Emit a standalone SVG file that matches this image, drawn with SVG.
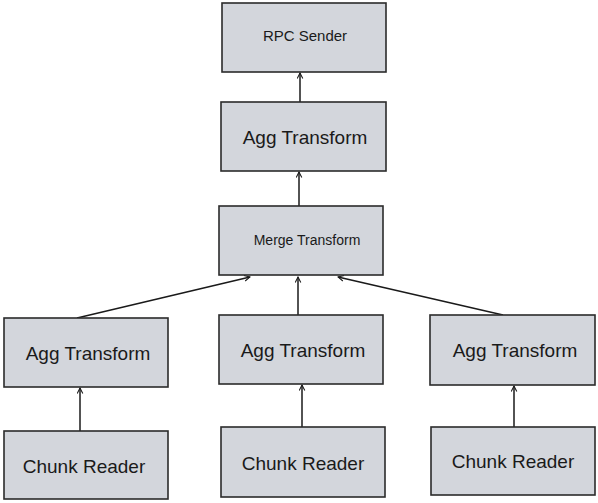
<svg xmlns="http://www.w3.org/2000/svg" width="598" height="503" viewBox="0 0 598 503">
<style>
.box{fill:#d3d6dc;stroke:#2b2b2b;stroke-width:1.6}
.t{font-family:"Liberation Sans",Arial,sans-serif;fill:#1a1a1a;text-anchor:middle;dominant-baseline:central}
.l{font-size:19px}
.s{font-size:15px}
.m{font-size:14px}
.c{stroke:#1a1a1a;stroke-width:1.5;fill:none;marker-end:url(#ah)}
</style>
<defs>
<marker id="ah" viewBox="0 0 10 10" refX="9" refY="5" markerWidth="7" markerHeight="7" orient="auto" markerUnits="userSpaceOnUse">
<path d="M1,1 L9,5 L1,9" fill="none" stroke="#1a1a1a" stroke-width="1.5"/>
</marker>
</defs>
<rect width="598" height="503" fill="#ffffff"/>
<g id="connectors">
<line class="c" x1="300" y1="102" x2="300" y2="73"/>
<line class="c" x1="299" y1="206" x2="299" y2="172"/>
<line class="c" x1="77" y1="318" x2="250" y2="277"/>
<line class="c" x1="298" y1="315" x2="298" y2="277"/>
<line class="c" x1="503" y1="315" x2="338" y2="277"/>
<line class="c" x1="80" y1="431" x2="80" y2="388"/>
<line class="c" x1="302" y1="427" x2="302" y2="385"/>
<line class="c" x1="514" y1="427" x2="514" y2="386"/>
</g>
<g id="rpc-sender">
<rect class="box" x="222" y="3" width="164" height="69"/>
<text class="t s" x="305" y="35">RPC Sender</text>
</g>
<g id="agg-top">
<rect class="box" x="221" y="102" width="165" height="69"/>
<text class="t l" x="305" y="137">Agg Transform</text>
</g>
<g id="merge">
<rect class="box" x="219" y="206" width="164" height="69"/>
<text class="t m" x="307" y="240">Merge Transform</text>
</g>
<g id="agg-left">
<rect class="box" x="4" y="318" width="164" height="69"/>
<text class="t l" x="88" y="353">Agg Transform</text>
</g>
<g id="agg-mid">
<rect class="box" x="219" y="315" width="164" height="69"/>
<text class="t l" x="303" y="350">Agg Transform</text>
</g>
<g id="agg-right">
<rect class="box" x="430" y="315" width="165" height="70"/>
<text class="t l" x="515" y="350">Agg Transform</text>
</g>
<g id="chunk-left">
<rect class="box" x="4" y="431" width="164" height="68"/>
<text class="t l" x="84" y="466">Chunk Reader</text>
</g>
<g id="chunk-mid">
<rect class="box" x="221" y="427" width="164" height="70"/>
<text class="t l" x="303" y="463">Chunk Reader</text>
</g>
<g id="chunk-right">
<rect class="box" x="431" y="427" width="164" height="68"/>
<text class="t l" x="513" y="461">Chunk Reader</text>
</g>
</svg>
